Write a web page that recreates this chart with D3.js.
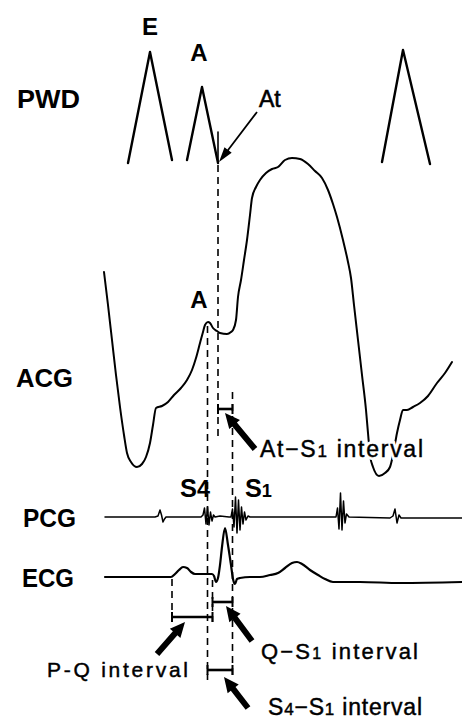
<!DOCTYPE html>
<html><head><meta charset="utf-8">
<script src="https://cdn.jsdelivr.net/npm/d3@7"></script>
<style>html,body{margin:0;padding:0;background:#fff;}svg{display:block;}</style>
</head><body>
<script>
// ---------- data (time t, amplitude) ----------
const pwdE  = [[128,0],[150,111],[172,3]];
const pwdA  = [[187,3],[202,76],[218,0]];
const pwdE2 = [[382,1],[403,113],[430,-1]];
const atTick = [[218,0],[218,31]];

const acg = [[104,198],[108,165],[112,130],[116,95],[120,63],[124,35],[127,17],[131,8],[137,3],[142,6],[146,13],[150,27],[153,45],[156,62],[162,64],[168,68],[174,75],[181,82],[187,90],[192,100],[196,112],[200,127],[203,138],[205,145],[208,148],[210,147],[213,142],[217,139],[220,137],[227,136],[231,138],[233,140],[236,150],[238,173],[241,190],[244,210],[247,230],[250,255],[252,272],[256,283],[260,290],[266,297],[272,301],[278,303],[285,310],[292,312],[300,311],[308,306],[315,299],[322,292],[328,280],[333,266],[337,253],[343,230],[348,208],[351,192],[354,165],[358,130],[362,95],[366,60],[368,37],[370,15],[373,3],[379,-6],[385,-3],[390,3],[393,15],[397,37],[400,50],[403,60],[407,60],[413,63],[420,67],[428,74],[437,87],[445,97],[452,108]];

const pcg = [[105,0],[155,0],[158,1],[160,7],[161.5,2],[163,-5],[164.5,-2],[166,0],[201,0],[203,2],[204.5,9],[206,-7],[207.5,10],[209,-8],[210.5,5],[212,-4],[213.5,2],[215,0],[220,1],[229,0],[231,0],[232.5,8],[234,-10],[235.5,20],[237,-16],[238.5,17],[240,-13],[241.5,10],[243,-7],[244.5,5],[246,-3],[248,1],[250,0],[336,0],[337.5,9],[339,-12],[340.5,24],[342,-13],[343.5,16],[345,-6],[346.5,3],[349,0],[390,-1],[393,1],[395,8],[397,-6],[399,2],[401,-1],[462,-1]];

const ecg = [[105,0],[140,0],[171,0],[175,3],[179,7],[183,10],[187,9],[191,5],[195,3],[200,3],[212,3],[214,1],[216,-5],[218,-1],[220,12],[222,30],[225,49],[228,32],[231,12],[233,-2],[235,-7],[237,-2],[240,-1],[250,0],[260,0],[270,2],[278,4],[285,9],[292,14],[297,15],[302,13],[310,7],[318,2],[325,-2],[333,-5],[360,-5],[400,-6],[462,-5]];

// event times
const eventNames = ["P","S4","Q","At","S1"];
const eventTimes = [172, 207.5, 212.5, 218, 232.5];

// track labels
const trackNames = ["PWD","ACG","PCG","ECG"];

// ---------- layout ----------
const W = 462, H = 720;
const svg = d3.select("body").append("svg").attr("width",W).attr("height",H);
const x = d3.scaleLinear().domain([0,462]).range([0,462]);
const yPWD = d3.scaleLinear().domain([0,100]).range([163,63]);
const yACG = d3.scaleLinear().domain([0,100]).range([470,370]);
const yPCG = d3.scaleLinear().domain([0,100]).range([517,417]);
const yECG = d3.scaleLinear().domain([0,100]).range([577,477]);
const ev = Object.fromEntries(eventNames.map((n,i)=>[n,eventTimes[i]]));

function trace(data, ys, curve, sw){
  svg.append("path").datum(data)
    .attr("d", d3.line().x(d=>x(d[0])).y(d=>ys(d[1])).curve(curve))
    .attr("fill","none").attr("stroke","#000").attr("stroke-width",sw)
    .attr("stroke-linejoin","round").attr("stroke-linecap","round");
}
trace(pwdE, yPWD, d3.curveLinear, 2.4);
trace(pwdA, yPWD, d3.curveLinear, 2.4);
trace(pwdE2, yPWD, d3.curveLinear, 2.4);
trace(atTick, yPWD, d3.curveLinear, 1.6);
trace(acg, yACG, d3.curveMonotoneX, 2);
trace(pcg, yPCG, d3.curveLinear, 1.5);
trace(ecg, yECG, d3.curveMonotoneX, 2.2);

// dashed guide lines
const dashes = [["At",165,440],["S4",326,680],["S1",392,680],["P",579,622],["Q",580,622]];
dashes.forEach(([n,y1,y2])=>{
  svg.append("line").attr("x1",x(ev[n])).attr("x2",x(ev[n])).attr("y1",y1).attr("y2",y2)
    .attr("stroke","#000").attr("stroke-width",1.6).attr("stroke-dasharray","7,5");
});

// interval bars
const bars = [["At","S1",409],["Q","S1",602],["P","Q",617],["S4","S1",670]];
bars.forEach(([a,b,y])=>{
  const g = svg.append("g").attr("stroke","#000");
  g.append("line").attr("x1",x(ev[a])).attr("x2",x(ev[b])).attr("y1",y).attr("y2",y).attr("stroke-width",2.6);
  [a,b].forEach(n=>g.append("line").attr("x1",x(ev[n])).attr("x2",x(ev[n])).attr("y1",y-5).attr("y2",y+5).attr("stroke-width",2));
});

// arrows
function arrowPoly(x1,y1,x2,y2,shaft,headW,headL){
  const dx=x2-x1, dy=y2-y1, L=Math.hypot(dx,dy), ux=dx/L, uy=dy/L, nx=-uy, ny=ux;
  const bx=x2-ux*headL, by=y2-uy*headL;
  const p=[[x1+nx*shaft/2,y1+ny*shaft/2],[bx+nx*shaft/2,by+ny*shaft/2],[bx+nx*headW/2,by+ny*headW/2],[x2,y2],
           [bx-nx*headW/2,by-ny*headW/2],[bx-nx*shaft/2,by-ny*shaft/2],[x1-nx*shaft/2,y1-ny*shaft/2]];
  return "M"+p.map(d=>d.join(",")).join("L")+"Z";
}
const thick = [[255,449,225,413],[157,654,185,622],[252,641,226,606],[248,708,224,677]];
thick.forEach(a=>svg.append("path").attr("d",arrowPoly(...a,6,14,15)).attr("fill","#000"));
svg.append("path").attr("d",arrowPoly(257,112,219,162,1.8,9,15)).attr("fill","#000");

// labels
const labelPos = [[17,108,63],[16,387,57],[23,527,53],[22,587,52]];
trackNames.forEach((n,i)=>{
  const [lx,ly,lw]=labelPos[i];
  svg.append("text").attr("x",lx).attr("y",ly).text(n)
    .attr("font-family","Liberation Sans, Arial, sans-serif").attr("font-weight","bold").attr("font-size",26)
    .attr("textLength",lw).attr("lengthAdjust","spacingAndGlyphs");
});
function bigLabel(txt,cx,by,anchor){
  return svg.append("text").attr("x",cx).attr("y",by).attr("text-anchor",anchor||"middle")
    .attr("font-family","Liberation Sans, Arial, sans-serif").attr("font-weight","bold").attr("font-size",24).text(txt);
}
bigLabel("E",150,35);
bigLabel("A",199,61);
bigLabel("A",199,308);
bigLabel("At",259,107,"start").attr("font-weight","normal").attr("font-size",23).attr("stroke","#000").attr("stroke-width",0.6);
function sLabel(num,lx,by,w){
  const t = svg.append("text").attr("x",lx).attr("y",by)
    .attr("font-family","Liberation Sans, Arial, sans-serif").attr("font-weight","bold").attr("font-size",25)
    .attr("textLength",w).attr("lengthAdjust","spacingAndGlyphs");
  t.append("tspan").text("S");
  t.append("tspan").attr("font-size",num==="1"?18:23).text(num);
}
sLabel("4",180,497,30);
sLabel("1",245,497,27);

function interval(parts,lx,by,w,fs){
  [true,false].forEach(halo=>{
    const t = svg.append("text").attr("x",lx).attr("y",by)
      .attr("font-family","Liberation Sans, Arial, sans-serif").attr("font-size",fs)
      .attr("textLength",w).attr("lengthAdjust","spacing")
      .attr("fill",halo?"#fff":"#000")
      .attr("stroke",halo?"#fff":"#000").attr("stroke-width",halo?6:0.45);
    parts.forEach(([s,small])=>t.append("tspan").attr("font-size",small?Math.round(fs*0.72):fs).text(s));
  });
}
interval([["At−S"],["1",1],[" interval"]],260,457,163,23);
interval([["Q−S"],["1",1],[" interval"]],261,659,157,22);
interval([["P-Q interval"]],47,677,141,21);
interval([["S"],["4",1],["−S"],["1",1],[" interval"]],268,715,154,23);
</script>
</body></html>
